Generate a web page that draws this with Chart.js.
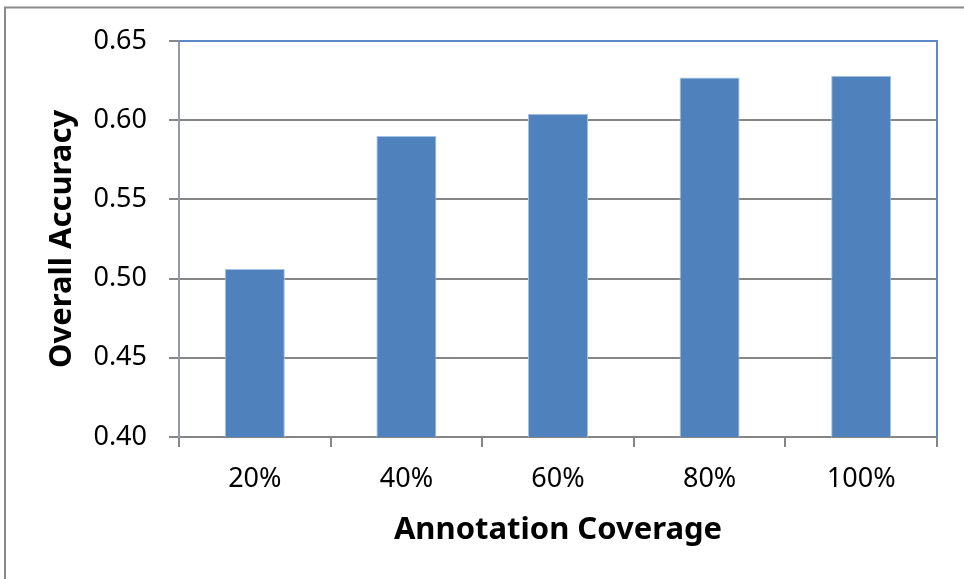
<!DOCTYPE html>
<html>
<head>
<meta charset="utf-8">
<script src="https://cdn.jsdelivr.net/npm/chart.js@4.4.1/dist/chart.umd.min.js"></script>
<style>
    html, body { margin: 0; padding: 0; background: #fff; }
    #wrap { width: 964px; height: 579px; position: relative; }
</style>
</head>
<body>
<div id="wrap"><canvas id="accChart"></canvas></div>
<script>
// Accuracy by annotation coverage
const coverageLabels = ['20%', '40%', '60%', '80%', '100%'];
const accuracyValues = [0.506, 0.590, 0.604, 0.627, 0.628];
const yTicks = [0.40, 0.45, 0.50, 0.55, 0.60, 0.65];

const BAR_BLUE = '#4F81BD';
const GRID_GREY = '#868686';
const FONT = '"Noto Sans", "Open Sans", sans-serif';

// Outer frame plus the blue top/right edge of the plot area
const frameLines = {
    id: 'frameLines',
    afterDraw(chart) {
        const ctx = chart.ctx;
        const area = chart.chartArea;
        ctx.save();
        ctx.strokeStyle = '#8A8A8A';
        ctx.lineWidth = 2;
        ctx.beginPath();
        ctx.moveTo(5, 579);
        ctx.lineTo(5, 7.5);
        ctx.lineTo(964, 7.5);
        ctx.stroke();

        ctx.strokeStyle = '#5B8AC6';
        ctx.lineWidth = 2;
        ctx.beginPath();
        ctx.moveTo(area.left, area.top);
        ctx.lineTo(area.right, area.top);
        ctx.lineTo(area.right, area.bottom);
        ctx.stroke();
        ctx.restore();
    }
};

new Chart(document.getElementById('accChart'), {
    type: 'bar',
    data: {
        labels: coverageLabels,
        datasets: [{
            data: accuracyValues,
            backgroundColor: BAR_BLUE,
            borderColor: '#A9C1E2',
            borderWidth: 1,
            categoryPercentage: 1,
            barPercentage: 0.396
        }]
    },
    options: {
        responsive: true,
        maintainAspectRatio: false,
        animation: false,
        layout: { padding: { top: 41, right: 27, left: 0, bottom: 0 } },
        plugins: {
            legend: { display: false },
            tooltip: { enabled: false }
        },
        scales: {
            x: {
                afterFit: (scale) => { scale.height = 142; },
                grid: {
                    drawOnChartArea: false,
                    offset: true,
                    tickLength: 10,
                    color: GRID_GREY,
                    lineWidth: 2
                },
                border: { color: GRID_GREY, width: 2 },
                ticks: {
                    color: '#000',
                    padding: 16,
                    font: { family: FONT, size: 27 }
                },
                title: {
                    display: true,
                    text: 'Annotation Coverage',
                    color: '#000',
                    padding: { top: 0, bottom: 30 },
                    font: { family: FONT, size: 31, weight: 'bold' }
                }
            },
            y: {
                min: 0.40,
                max: 0.65,
                afterFit: (scale) => { scale.width = 179; },
                afterBuildTicks: (scale) => {
                    scale.ticks = yTicks.map(v => ({ value: v }));
                },
                grid: {
                    color: GRID_GREY,
                    tickColor: GRID_GREY,
                    lineWidth: 2,
                    tickLength: 10
                },
                border: { color: '#8E9BAE', width: 2 },
                ticks: {
                    color: '#000',
                    padding: 22,
                    font: { family: FONT, size: 27 },
                    callback: (value) => Number(value).toFixed(2)
                },
                title: {
                    display: true,
                    text: 'Overall Accuracy',
                    color: '#000',
                    padding: { top: 44, bottom: 0 },
                    font: { family: FONT, size: 31, weight: 'bold' }
                }
            }
        }
    },
    plugins: [frameLines]
});
</script>
</body>
</html>
